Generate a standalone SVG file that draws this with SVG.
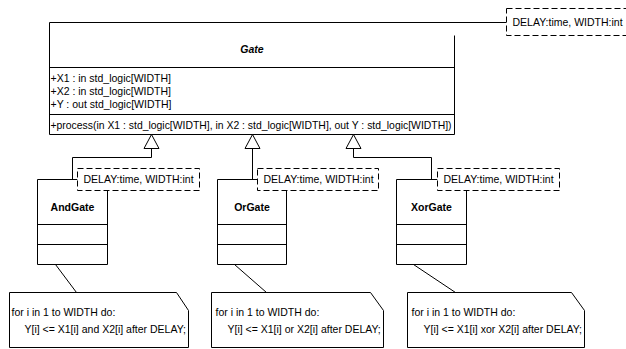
<svg xmlns="http://www.w3.org/2000/svg" width="626" height="349" viewBox="0 0 626 349">
<style>
.ln{fill:none;stroke:#000;stroke-width:1}
.box{fill:#fff;stroke:#000;stroke-width:1}
.param{fill:#fff;stroke:#000;stroke-width:1;stroke-dasharray:6 3}
.tri{fill:#fff;stroke:#000;stroke-width:1}
text{font-family:"Liberation Sans",Arial,sans-serif;font-size:10.5px;fill:#000}
.name{font-weight:bold;text-anchor:middle}
.abs{font-style:italic}
</style>
<rect width="626" height="349" fill="#fff"/>
<g transform="translate(0.5 0.5)">
<g id="Gate">
<rect x="49" y="22" width="405" height="112" fill="#fff"/>
<path class="ln" d="M506,22 H49 V134 H454 V35"/>
<path class="ln" d="M49,67 H454 M49,114 H454"/>
<text class="name abs" x="251.5" y="52.5">Gate</text>
<text x="50" y="81.5">+X1 : in std_logic[WIDTH]</text>
<text x="50" y="94.5">+X2 : in std_logic[WIDTH]</text>
<text x="50" y="107.5">+Y : out std_logic[WIDTH]</text>
<text x="50" y="128" textLength="401" lengthAdjust="spacingAndGlyphs">+process(in X1 : std_logic[WIDTH], in X2 : std_logic[WIDTH], out Y : std_logic[WIDTH])</text>
<rect class="param" x="506" y="8" width="124" height="27"/>
<text x="512" y="25.5">DELAY:time, WIDTH:int</text>
</g>
<g id="connectors">
<polyline class="ln" points="151,148 151,157 72,157 72,179"/>
<polyline class="ln" points="252,148 252,179"/>
<polyline class="ln" points="353,148 353,157 431,157 431,179"/>
<path class="tri" d="M151,134 L158.5,148 L143.5,148 Z"/>
<path class="tri" d="M252,134 L259.5,148 L244.5,148 Z"/>
<path class="tri" d="M353,134 L360.5,148 L345.5,148 Z"/>
<line class="ln" x1="55" y1="264" x2="76" y2="292"/>
<line class="ln" x1="234" y1="264" x2="266" y2="292"/>
<line class="ln" x1="413" y1="264" x2="455" y2="292"/>
</g>
<g id="AndGate">
<rect x="37" y="179" width="70" height="85" fill="#fff"/>
<path class="ln" d="M77,179 H37 V264 H107 V190 M37,224 H107 M37,244 H107"/>
<text class="name" x="72" y="210">AndGate</text>
<rect class="param" x="77" y="168" width="122" height="22"/>
<text x="83" y="182.5">DELAY:time, WIDTH:int</text>
</g>
<g id="OrGate">
<rect x="217" y="179" width="69" height="85" fill="#fff"/>
<path class="ln" d="M257,179 H217 V264 H286 V190 M217,224 H286 M217,244 H286"/>
<text class="name" x="251.5" y="210">OrGate</text>
<rect class="param" x="257" y="168" width="121" height="22"/>
<text x="263" y="182.5">DELAY:time, WIDTH:int</text>
</g>
<g id="XorGate">
<rect x="396" y="179" width="70" height="85" fill="#fff"/>
<path class="ln" d="M437,179 H396 V264 H466 V190 M396,224 H466 M396,244 H466"/>
<text class="name" x="431" y="210">XorGate</text>
<rect class="param" x="437" y="168" width="122" height="22"/>
<text x="443" y="182.5">DELAY:time, WIDTH:int</text>
</g>
<g id="NoteAnd">
<path class="box" d="M9,292 H176 L188,310 V347 H9 Z"/>
<text x="11" y="315.5">for i in 1 to WIDTH do:</text>
<text x="24" y="332.5">Y[i] &lt;= X1[i] and X2[i] after DELAY;</text>
</g>
<g id="NoteOr">
<path class="box" d="M211,292 H370 L383,310 V347 H211 Z"/>
<text x="215" y="315.5">for i in 1 to WIDTH do:</text>
<text x="227" y="332.5">Y[i] &lt;= X1[i] or X2[i] after DELAY;</text>
</g>
<g id="NoteXor">
<path class="box" d="M407,292 H571 L584,310 V347 H407 Z"/>
<text x="411" y="315.5">for i in 1 to WIDTH do:</text>
<text x="423" y="332.5">Y[i] &lt;= X1[i] xor X2[i] after DELAY;</text>
</g>
</g>
</svg>
